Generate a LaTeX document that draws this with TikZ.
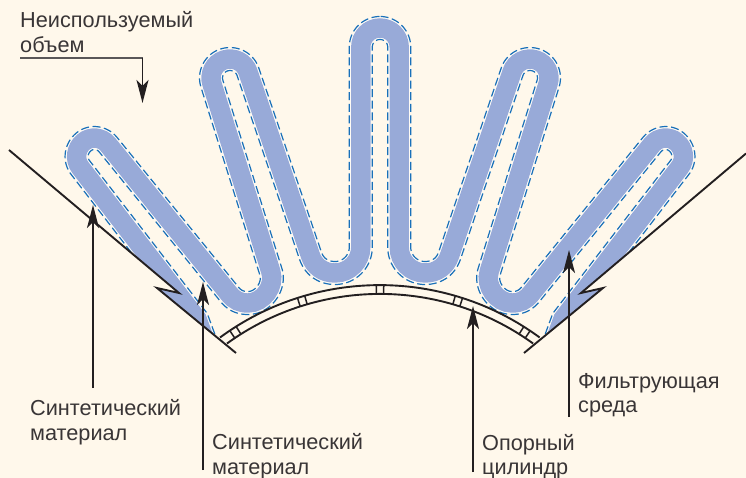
\documentclass[tikz,border=0pt]{standalone}
\usepackage{fontspec}
\setmainfont{Liberation Sans}
\usetikzlibrary{arrows.meta, decorations.pathmorphing}

\definecolor{paper}{RGB}{255,248,235}
\definecolor{media}{RGB}{152,170,216}
\definecolor{synth}{RGB}{24,112,186}
\definecolor{ink}{RGB}{35,31,32}

\tikzset{
  label text/.style={font=\fontsize{21.7}{24.3}\selectfont, text=ink!90, align=left, anchor=north west, inner sep=0pt},
  pointer/.style={ink, line width=1.5pt, -{Stealth[length=23pt, width=12pt, inset=6pt]}},
  wall/.style={ink, line width=1.9pt},
  halo/.style={white!80!paper, line width=21pt},
  band/.style={media, line width=19.4pt},
  dashline/.style={synth, line width=1.2pt, dash pattern=on 8pt off 3.6pt, decorate}
}

% half of the pleat, from the wall over the middle fold
\def\pleat{(204,338) -- (197,319) -- (80.4,167.6) to[out=128,in=220] (83.5,142) to[out=40,in=130] (108,144.5)
  -- (229.5,294.3) to[out=-50.5,in=180] (248,303) to[out=0,in=-72] (270.8,271.5)
  -- (212,84) to[out=108,in=198] (224,60) to[out=18,in=108] (248,72)
  -- (310.3,255.2) to[out=-72,in=180] (335,273) to[out=0,in=-90] (360.8,247)
  -- (360.8,47) to[out=90,in=180] (380,28) to[out=0,in=90] (399.2,47)}

\begin{document}
\begin{tikzpicture}[x=1pt, y=-1pt]
  \useasboundingbox (0,0) rectangle (746,478);
  \fill[paper] (0,0) rectangle (746,478);

  \begin{scope}
    \clip (9,150) -- (179,293) -- (157,288) -- (236,353) -- (524,353) -- (603,288) -- (581,293)
      -- (751,150) -- (751,0) -- (9,0) -- cycle;
    \foreach \sx/\dx in {1/0, -1/760} {
      \begin{scope}[shift={(\dx,0)}, xscale=\sx]
        \clip (0,0) rectangle (380,478);
        \draw[halo] \pleat;
        \fill[media] (179,293) -- (157,288) -- (200,325) -- cycle;
        \draw[band] \pleat;
        \draw[dashline, decoration={curveto, segment length=4pt, raise=11.5pt}] \pleat;
        \draw[dashline, decoration={curveto, segment length=4pt, raise=-11.5pt}] \pleat;
      \end{scope}
    }
  \end{scope}

  % walls with their notches
  \draw[wall] (9,150) -- (179,293) -- (157,288) -- (236,353);
  \draw[wall] (746,153.5) -- (581,293) -- (603,288) -- (524,353);

  % support cylinder
  \coordinate (cyl) at (380,555);
  \draw[wall] (220,337.5) arc[start angle=126.3, end angle=53.7, radius=270pt];
  \draw[wall] (227,343.5) arc[start angle=125.9, end angle=54.1, radius=261pt];
  \foreach \a in {57,73,90,107,123} {
    \draw[ink, line width=1.5pt] ([shift={(\a-0.8:261pt)}]cyl) -- ([shift={(\a-0.8:270pt)}]cyl);
    \draw[ink, line width=1.5pt] ([shift={(\a+0.8:261pt)}]cyl) -- ([shift={(\a+0.8:270pt)}]cyl);
  }

  \node[label text] (voidlabel) at (20,11.4) {Неиспользуемый\\объем};
  \node[label text] (synthleft) at (30,399.4) {Синтетический\\материал};
  \node[label text] (synthright) at (212,433.4) {Синтетический\\материал};
  \node[label text] (cylinderlabel) at (482,434) {Опорный\\цилиндр};
  \node[label text] (medialabel) at (578,373.4) {Фильтрующая\\среда};

  \coordinate (voidtail) at (20,58);
  \coordinate (voidbend) at (142.5,58);
  \coordinate (voidtip) at (142.5,103);
  \draw[ink!75, line width=1.1pt] (voidtail) -- (voidbend);
  \draw[pointer] (voidbend) -- (voidtip);

  \coordinate (synthlefttail) at (93,388);
  \coordinate (synthlefttip) at (93,205);
  \coordinate (synthrighttail) at (203,470);
  \coordinate (synthrighttip) at (203,282);
  \coordinate (cylindertail) at (473,472);
  \coordinate (cylindertip) at (473,306);
  \coordinate (mediatail) at (569,417);
  \coordinate (mediatip) at (569,250);
  \draw[pointer] (synthlefttail) -- (synthlefttip);
  \draw[pointer] (synthrighttail) -- (synthrighttip);
  \draw[pointer] (cylindertail) -- (cylindertip);
  \draw[pointer] (mediatail) -- (mediatip);
\end{tikzpicture}
\end{document}
